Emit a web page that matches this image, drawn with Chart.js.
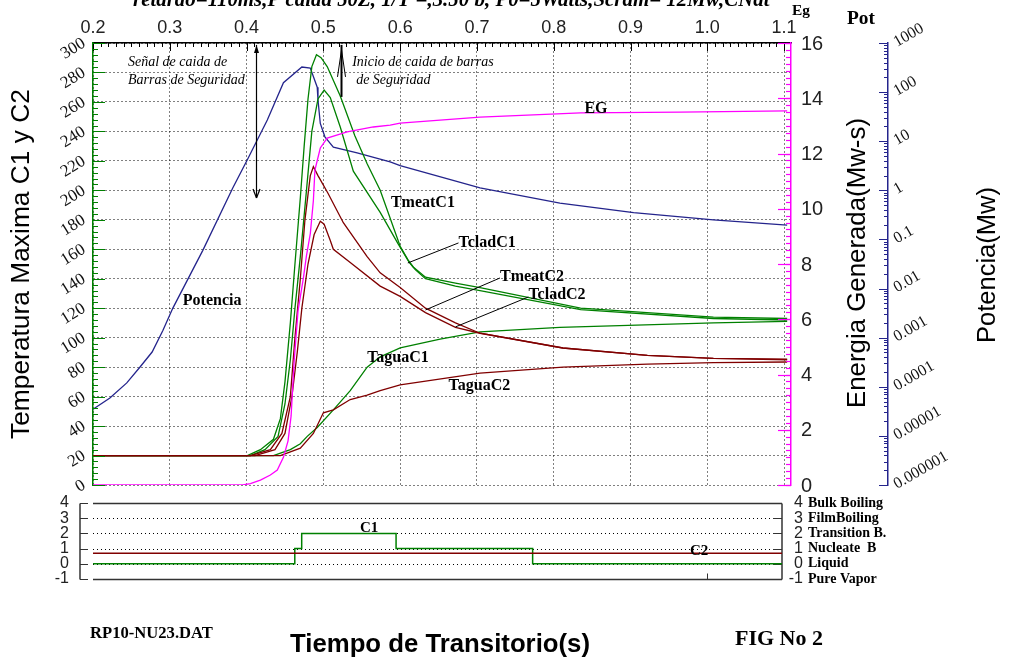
<!DOCTYPE html>
<html><head><meta charset="utf-8">
<script src="https://cdn.jsdelivr.net/npm/chart.js@4.4.1/dist/chart.umd.min.js"></script>
<style>
html,body{margin:0;padding:0;background:#fff;}
#wrap{position:relative;width:1013px;height:660px;overflow:hidden;background:#fff;}
#wrap canvas{position:absolute;left:0;top:0;}
</style></head><body>
<div id="wrap"><canvas id="cTop" width="1013" height="660"></canvas><canvas id="cBot" width="1013" height="660"></canvas></div>
<script>
// ---------------- data ----------------
const timeTicks = [0.2,0.3,0.4,0.5,0.6,0.7,0.8,0.9,1.0,1.1];
const tempTicks = [0,20,40,60,80,100,120,140,160,180,200,220,240,260,280,300];
const egTicks = [0,2,4,6,8,10,12,14,16];
const potTicks = [1e-6,1e-5,1e-4,1e-3,1e-2,1e-1,1,10,100,1000];
const potTickLabels = ['0.000001','0.00001','0.0001','0.001','0.01','0.1','1','10','100','1000'];
const regimeTicks = [-1,0,1,2,3,4];
const regimeNames = ['Pure Vapor','Liquid','Nucleate  B','Transition B.','FilmBoiling','Bulk Boiling'];

const tmeatC1_t = [0.200,0.401,0.418,0.435,0.444,0.450,0.457,0.463,0.470,0.475,0.480,0.485,0.491,0.497,0.505,0.522,0.541,0.557,0.574,0.600,0.610,0.617,0.633,0.672,0.704,0.835,1.008,1.104];
const tmeatC1_v = [20,20,24,31,45,70,110,150,195,230,262,284,292,290,284,264,237,218,200,162,153,148,141,137,134,120,114,113];
const tcladC1_t = [0.200,0.405,0.424,0.441,0.450,0.457,0.463,0.470,0.478,0.485,0.493,0.501,0.509,0.522,0.539,0.574,0.597,0.612,0.620,0.633,0.672,0.704,0.835,1.008,1.104];
const tcladC1_v = [20,20,24,33,55,85,120,155,200,240,262,268,263,243,213,185,164,151,146,140,135,132,119,113,112];
const tmeatC2_t = [0.200,0.405,0.431,0.446,0.457,0.463,0.470,0.476,0.483,0.487,0.493,0.506,0.526,0.557,0.574,0.600,0.633,0.672,0.704,0.812,0.922,1.008,1.104];
const tmeatC2_v = [20,20,24,35,60,100,140,180,210,216,210,198,178,155,144,134,120,110,103,93,88,86,85.5];
const tcladC2_t = [0.200,0.411,0.437,0.450,0.459,0.466,0.472,0.480,0.488,0.496,0.501,0.509,0.513,0.535,0.574,0.600,0.633,0.672,0.704,0.812,0.922,1.008,1.104];
const tcladC2_v = [20,20,24,35,60,90,120,150,170,179,177,166,160,151,135,128,117,107,103,93,88,86,85];
const taguaC1_t = [0.200,0.435,0.457,0.470,0.479,0.492,0.513,0.535,0.557,0.574,0.600,0.652,0.704,0.808,1.008,1.104];
const taguaC1_v = [20,20,24,28,33,39,51,64,80,87,93,99,104,107,110,111];
const taguaC2_t = [0.200,0.444,0.470,0.487,0.500,0.513,0.535,0.557,0.574,0.600,0.704,0.812,0.922,1.008,1.104];
const taguaC2_v = [20,20,25,35,49,51,58,61,64,68,76,80,82,83,83.5];
const pot_t = [0.200,0.222,0.244,0.261,0.277,0.291,0.304,0.343,0.382,0.401,0.427,0.448,0.472,0.483,0.492,0.493,0.496,0.502,0.513,0.544,0.587,0.600,0.704,0.808,0.904,1.008,1.104];
const pot_v = [3.5e-5,5.9e-5,1.2e-4,2.5e-4,5.1e-4,1.4e-3,4.0e-3,0.060,1.12,4.2,27,155,324,309,126,69,23,12.3,7.6,5.8,3.8,3.2,1.12,0.55,0.35,0.25,0.195];
const eg_t = [0.200,0.395,0.405,0.418,0.431,0.440,0.448,0.454,0.458,0.462,0.467,0.474,0.478,0.483,0.487,0.489,0.496,0.505,0.531,0.565,0.587,0.600,0.704,0.835,0.965,1.104];
const eg_v = [0,0,0.05,0.18,0.36,0.54,1.0,1.6,2.5,4.5,6.3,7.5,8.3,9.1,10.3,11.4,12.2,12.56,12.78,12.96,13.03,13.1,13.32,13.47,13.5,13.54];
const regC1_t = [0.200,0.463,0.472,0.595,0.773,1.098];
const regC1_v = [0,1,2,1,0,0];
const regC2_t = [0.200,1.098];
const regC2_v = [0.7,0.7];

// ---------------- styles / annotations ----------------
const BROWN='#800000', GREEN='#008000', NAVY='#24248c', PINK='#ff00ff';
const SERIF='"Liberation Serif","Times New Roman",serif', SANS='"Liberation Sans",Arial,sans-serif';
const seriesNotes = [
  ['Potencia',0.317,122],['TmeatC1',0.588,189],['TcladC1',0.676,161.5],['TmeatC2',0.730,138.5],
  ['TcladC2',0.767,126],['TaguaC1',0.557,83.5],['TaguaC2',0.663,64.5],['EG',0.840,252.5]
];
const leaders = [[0.610,150.7,0.676,164.3],[0.633,118.8,0.730,140.5],[0.672,107.3,0.767,127.6]];
const italicNotes = [['Señal de caida de',0.2456,284.5],['Barras de Seguridad',0.2456,272.2],['Inicio de caida de barras',0.5375,284.5],['de Seguridad',0.5427,272.2]];

function pts(t,v){return t.map((x,i)=>({x:x,y:v[i]}));}
function ds(label,t,v,color,axis,w){return {label,data:pts(t,v),borderColor:color,backgroundColor:color,yAxisID:axis,xAxisID:'x',borderWidth:w||1.3,pointRadius:0,fill:false,tension:0};}
function fitFont(ctx,text,style,family,width){ctx.font=style+' 100px '+family;const w=ctx.measureText(text).width;return style+' '+(100*width/w).toFixed(2)+'px '+family;}
function seg(ctx,x1,y1,x2,y2){ctx.beginPath();ctx.moveTo(x1,y1);ctx.lineTo(x2,y2);ctx.stroke();}

const topDeco = {
  id:'topDeco',
  afterDraw(chart){
    const {ctx, chartArea:ca, scales} = chart; const x=scales.x, yT=scales.yT, yE=scales.yE, yP=scales.yP;
    ctx.save();
    ctx.lineWidth=1; ctx.strokeStyle='#000';
    for(let i=20;i<=110;i++){const px=Math.round(x.getPixelForValue(i/100))+0.5;seg(ctx,px,ca.top,px,ca.top+(i%10===0?8:4));}
    ctx.fillStyle='#222'; ctx.font='18px '+SANS; ctx.textAlign='center'; ctx.textBaseline='alphabetic';
    timeTicks.forEach(v=>ctx.fillText(v.toFixed(1),x.getPixelForValue(v),33));
    ctx.strokeStyle=GREEN;
    for(let v=0;v<=300;v+=4){const py=Math.round(yT.getPixelForValue(v))+0.5;seg(ctx,ca.left,py,ca.left+5,py);}
    tempTicks.forEach(v=>{const py=Math.round(yT.getPixelForValue(v))+0.5;seg(ctx,ca.left,py,ca.left+12,py);});
    ctx.fillStyle='#111'; ctx.font='17px '+SERIF; ctx.textAlign='right'; ctx.textBaseline='middle';
    tempTicks.forEach(v=>{ctx.save();ctx.translate(ca.left-9,yT.getPixelForValue(v)-1);ctx.rotate(-32*Math.PI/180);ctx.fillText(String(v),0,0);ctx.restore();});
    const ex=yE.left;
    ctx.strokeStyle=PINK; ctx.lineWidth=1.2;
    for(let v=0;v<=16.001;v+=0.25){const py=Math.round(yE.getPixelForValue(v))+0.5;seg(ctx,ex-5,py,ex,py);}
    egTicks.forEach(v=>{const py=Math.round(yE.getPixelForValue(v))+0.5;seg(ctx,ex-13,py,ex,py);});
    ctx.fillStyle='#222'; ctx.font='20px '+SANS; ctx.textAlign='left'; ctx.textBaseline='middle';
    egTicks.forEach(v=>ctx.fillText(String(v),ex+10,yE.getPixelForValue(v)+1));
    const px0=yP.left;
    ctx.strokeStyle=NAVY; ctx.lineWidth=1;
    potTicks.forEach((d,i)=>{
      const py=Math.round(yP.getPixelForValue(d))+0.5; seg(ctx,px0-9,py,px0,py);
      if(i<potTicks.length-1){for(let k=2;k<=9;k++){const q=Math.round(yP.getPixelForValue(d*k))+0.5;seg(ctx,px0-4,q,px0,q);}}
    });
    ctx.fillStyle='#111'; ctx.font='16px '+SERIF; ctx.textAlign='left'; ctx.textBaseline='alphabetic';
    potTicks.forEach((d,i)=>{ctx.save();ctx.translate(px0+9,yP.getPixelForValue(d)+4);ctx.rotate(-30*Math.PI/180);ctx.fillText(potTickLabels[i],0,0);ctx.restore();});
    ctx.fillStyle='#000'; ctx.font='bold 16px '+SERIF; ctx.textAlign='left'; ctx.textBaseline='alphabetic';
    seriesNotes.forEach(n=>ctx.fillText(n[0],x.getPixelForValue(n[1]),yT.getPixelForValue(n[2])));
    ctx.strokeStyle='#000'; ctx.lineWidth=1;
    leaders.forEach(l=>seg(ctx,x.getPixelForValue(l[0]),yT.getPixelForValue(l[1]),x.getPixelForValue(l[2]),yT.getPixelForValue(l[3])));
    ctx.font='italic 14px '+SERIF;
    italicNotes.forEach(n=>ctx.fillText(n[0],x.getPixelForValue(n[1]),yT.getPixelForValue(n[2])));
    const ax1=Math.round(x.getPixelForValue(0.4124))+0.5, a1t=yT.getPixelForValue(298.7), a1b=yT.getPixelForValue(194.8);
    ctx.lineWidth=1.2; seg(ctx,ax1,a1t,ax1,a1b);
    ctx.beginPath();ctx.moveTo(ax1,a1t);ctx.lineTo(ax1-2.5,a1t+8);ctx.lineTo(ax1+2.5,a1t+8);ctx.closePath();ctx.fillStyle='#000';ctx.fill();
    seg(ctx,ax1-3.5,a1b-9,ax1,a1b); seg(ctx,ax1+3.5,a1b-9,ax1,a1b);
    const ax2=Math.round(x.getPixelForValue(0.5231))+0.5, a2t=yT.getPixelForValue(298.7), a2b=yT.getPixelForValue(263.4);
    ctx.lineWidth=2; seg(ctx,ax2,a2t,ax2,a2b);
    ctx.lineWidth=1; ctx.beginPath();ctx.moveTo(ax2-4,a2t+32);ctx.lineTo(ax2,a2t+5);ctx.lineTo(ax2+4,a2t+32);ctx.stroke();
    ctx.fillStyle='#000'; ctx.textAlign='left'; ctx.textBaseline='alphabetic';
    const title='retardo=110ms,P caida 50Z, 1/T =,3.50 b, P0=5Watts,Scram= 12Mw,CNat';
    ctx.font=fitFont(ctx,title,'italic bold',SERIF,637); ctx.fillText(title,133,6);
    ctx.font=fitFont(ctx,'Eg','bold',SERIF,18); ctx.fillText('Eg',792,15);
    ctx.font=fitFont(ctx,'Pot','bold',SERIF,28); ctx.fillText('Pot',847,24);
    ctx.textAlign='center'; ctx.textBaseline='middle';
    const t1='Temperatura Maxima C1 y C2'; ctx.font=fitFont(ctx,t1,'',SANS,350);
    ctx.save();ctx.translate(22,264);ctx.rotate(-Math.PI/2);ctx.fillText(t1,0,0);ctx.restore();
    const t2='Energia Generada(Mw-s)'; ctx.font=fitFont(ctx,t2,'',SANS,290);
    ctx.save();ctx.translate(858,263);ctx.rotate(-Math.PI/2);ctx.fillText(t2,0,0);ctx.restore();
    const t3='Potencia(Mw)'; ctx.font=fitFont(ctx,t3,'',SANS,156);
    ctx.save();ctx.translate(988,265);ctx.rotate(-Math.PI/2);ctx.fillText(t3,0,0);ctx.restore();
    ctx.restore();
  }
};

new Chart(document.getElementById('cTop'),{
  type:'line',
  data:{datasets:[
    ds('EG',eg_t,eg_v,PINK,'yE'),
    ds('TmeatC2',tmeatC2_t,tmeatC2_v,BROWN,'yT'),
    ds('TcladC2',tcladC2_t,tcladC2_v,BROWN,'yT'),
    ds('TaguaC2',taguaC2_t,taguaC2_v,BROWN,'yT'),
    ds('TmeatC1',tmeatC1_t,tmeatC1_v,GREEN,'yT'),
    ds('TcladC1',tcladC1_t,tcladC1_v,GREEN,'yT'),
    ds('TaguaC1',taguaC1_t,taguaC1_v,GREEN,'yT'),
    ds('Potencia',pot_t,pot_v,NAVY,'yP')
  ]},
  options:{
    responsive:false, animation:false, events:[],
    plugins:{legend:{display:false},tooltip:{enabled:false}},
    layout:{padding:{left:0,right:0,top:0,bottom:175}},
    scales:{
      x:{type:'linear',position:'top',min:0.2,max:1.109,
         afterBuildTicks:s=>{s.ticks=timeTicks.map(v=>({value:v}));},
         afterFit:s=>{s.height=43;},
         ticks:{display:false},grid:{color:'#000',lineWidth:1,drawTicks:false},border:{color:'#000',width:1.5,dash:[1,3]}},
      yT:{type:'linear',position:'left',min:0,max:300,
         afterBuildTicks:s=>{s.ticks=tempTicks.map(v=>({value:v}));},
         afterFit:s=>{s.width=93;},
         ticks:{display:false},grid:{color:'#000',lineWidth:1,drawTicks:false},border:{color:GREEN,width:1.5,dash:[1,3]}},
      yE:{type:'linear',position:'right',weight:0,min:0,max:16,
         afterFit:s=>{s.width=97;},
         ticks:{display:false},grid:{display:false,drawTicks:false},border:{color:PINK,width:1.5}},
      yP:{type:'logarithmic',position:'right',weight:1,min:1e-6,max:1000,
         afterFit:s=>{s.width=125;},
         ticks:{display:false},grid:{display:false,drawTicks:false},border:{color:NAVY,width:1.5}}
    }
  },
  plugins:[topDeco]
});

const botDeco = {
  id:'botDeco',
  beforeDatasetsDraw(chart){
    const {ctx, chartArea:ca, scales:{x,y}} = chart;
    ctx.save();
    ctx.strokeStyle='#000'; ctx.lineWidth=1; ctx.setLineDash([1,3]);
    [0,1,2,3].forEach(v=>{const py=Math.round(y.getPixelForValue(v))+0.5;seg(ctx,ca.left,py,ca.right,py);});
    ctx.setLineDash([]);
    ctx.strokeStyle='#333'; ctx.lineWidth=1.5;
    const yTop=Math.round(y.getPixelForValue(4))+0.5, yBot=Math.round(y.getPixelForValue(-1))+0.5;
    seg(ctx,ca.left,yTop,ca.right,yTop); seg(ctx,ca.left,yBot,ca.right,yBot); seg(ctx,ca.right,yTop,ca.right,yBot);
    const lx=ca.left-13;
    seg(ctx,lx,yTop,lx,yBot);
    ctx.lineWidth=1;
    regimeTicks.forEach(v=>{const py=Math.round(y.getPixelForValue(v))+0.5;seg(ctx,lx,py,lx+8,py);seg(ctx,ca.right-9,py,ca.right,py);});
    const tx=Math.round(x.getPixelForValue(1.0))+0.5; seg(ctx,tx,yBot,tx,yBot-6);
    ctx.restore();
  },
  afterDraw(chart){
    const {ctx, chartArea:ca, scales:{x,y}} = chart;
    ctx.save();
    ctx.fillStyle='#222'; ctx.font='16px '+SANS; ctx.textBaseline='middle'; ctx.textAlign='right';
    regimeTicks.forEach(v=>ctx.fillText(String(v),ca.left-24,y.getPixelForValue(v)));
    regimeTicks.forEach(v=>ctx.fillText(String(v),ca.right+21,y.getPixelForValue(v)));
    ctx.fillStyle='#000'; ctx.font='bold 14px '+SERIF; ctx.textAlign='left';
    regimeTicks.forEach((v,i)=>ctx.fillText(regimeNames[i],ca.right+26,y.getPixelForValue(v)));
    ctx.textBaseline='alphabetic';
    ctx.font='bold 15px '+SERIF;
    ctx.fillText('C1',x.getPixelForValue(0.548),y.getPixelForValue(2.09));
    ctx.fillText('C2',x.getPixelForValue(0.978),y.getPixelForValue(0.58));
    ctx.font=fitFont(ctx,'RP10-NU23.DAT','bold',SERIF,123); ctx.fillText('RP10-NU23.DAT',90,638);
    ctx.font=fitFont(ctx,'FIG No 2','bold',SERIF,88); ctx.fillText('FIG No 2',735,645);
    ctx.font=fitFont(ctx,'Tiempo de Transitorio(s)','bold',SANS,300); ctx.fillText('Tiempo de Transitorio(s)',290,652);
    ctx.restore();
  }
};

new Chart(document.getElementById('cBot'),{
  type:'line',
  data:{datasets:[
    ds('C2',regC2_t,regC2_v,BROWN,'y',1.5),
    Object.assign(ds('C1',regC1_t,regC1_v,GREEN,'y',1.5),{stepped:true})
  ]},
  options:{
    responsive:false, animation:false, events:[],
    plugins:{legend:{display:false},tooltip:{enabled:false}},
    layout:{padding:{left:93,right:231,top:503,bottom:81}},
    scales:{
      x:{type:'linear',display:false,min:0.2,max:1.098},
      y:{type:'linear',display:false,min:-1,max:4}
    }
  },
  plugins:[botDeco]
});
</script>
</body></html>
